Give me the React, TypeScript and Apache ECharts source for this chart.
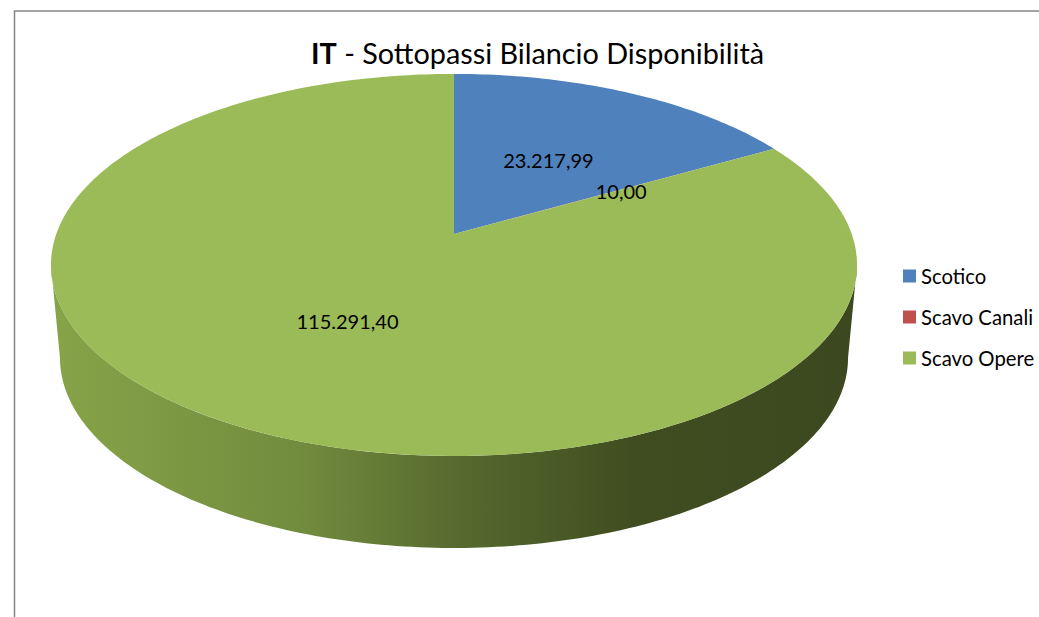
import React, { useEffect, useRef } from "react";
import * as echarts from "echarts";

const categories = ["Scotico", "Scavo Canali", "Scavo Opere"];
const values = [23217.99, 10.0, 115291.4];
const colors = ["#4f81bd", "#c0504d", "#9bbb59"];
const titleBold = "IT";
const titleRest = " - Sottopassi Bilancio Disponibilità";

const FONT = "Lato";
const CX = 454;
const APEX_Y = 234;
const A = 186;
const B = 397.7;
const P = 0.162;
const TAU = Math.PI * 2;

// perspective projection of a point of the unit disc (angle clockwise from the top)
function top(theta: number, r = 1): [number, number] {
  const u = Math.sin(theta) * r;
  const v = Math.cos(theta) * r;
  const d = 1 + P * v;
  return [CX + (B * u) / d, APEX_Y - (A * v) / d];
}
function bottom(theta: number): [number, number] {
  const [x, y] = top(theta);
  return [CX + ((x - CX) * 394) / 403, 358 + ((y - 265) * 190) / 191];
}
function sample(a: number, b: number, f: (t: number) => [number, number]) {
  const n = Math.max(2, Math.ceil(Math.abs(b - a) * 60));
  const out: [number, number][] = [];
  for (let i = 0; i <= n; i++) out.push(f(a + ((b - a) * i) / n));
  return out;
}
function fmt(v: number) {
  const [i, d] = v.toFixed(2).split(".");
  return i.replace(/\B(?=(\d{3})+(?!\d))/g, ".") + "," + d;
}

const TANGENT = Math.acos(-P);
const total = values.reduce((s, v) => s + v, 0);

function wallFill() {
  return new echarts.graphic.LinearGradient(
    60, 0, 857, 0,
    [
      { offset: 0, color: "#86a348" },
      { offset: 0.3, color: "#728c3e" },
      { offset: 0.5, color: "#566a2f" },
      { offset: 0.72, color: "#404d20" },
      { offset: 1, color: "#3c481f" },
    ],
    true
  );
}

function renderSlice(params: any, api: any) {
  const start = api.value(0) as number;
  const end = api.value(1) as number;
  const value = api.value(2) as number;
  const color = colors[params.seriesIndex];
  const children: any[] = [];
  const wallStart = Math.max(start, TANGENT);
  const wallEnd = Math.min(end, TAU - TANGENT);
  if (wallEnd > wallStart) {
    children.push({
      type: "polygon",
      shape: {
        points: [
          ...sample(wallStart, wallEnd, (t) => top(t)),
          ...sample(wallEnd, wallStart, bottom),
        ],
      },
      style: { fill: wallFill() },
    });
  }
  children.push({
    type: "polygon",
    shape: {
      points: [[CX, APEX_Y], ...sample(start, end, (t) => top(t))],
    },
    style: { fill: color },
  });
  const [lx, ly] = top((start + end) / 2, 0.5);
  children.push({
    type: "text",
    z2: 100,
    x: lx + 1,
    y: ly + 1,
    style: {
      text: fmt(value),
      fontFamily: FONT,
      fontSize: 20,
      fill: "#000000",
      align: "center",
      verticalAlign: "middle",
    },
  });
  return { type: "group", children };
}

function buildSeries() {
  let acc = 0;
  return categories.map((name, i) => {
    const start = (acc / total) * TAU;
    acc += values[i];
    const end = (acc / total) * TAU;
    return {
      type: "custom",
      name,
      coordinateSystem: "none",
      silent: true,
      itemStyle: { color: colors[i] },
      renderItem: renderSlice,
      encode: { value: [0, 1, 2] },
      data: [[start, end, values[i]]],
    };
  });
}

export default function App() {
  const ref = useRef<HTMLDivElement>(null);
  useEffect(() => {
    document.body.style.margin = "0";
    const chart = echarts.init(ref.current!, undefined, { renderer: "svg" });
    chart.setOption({
      animation: false,
      backgroundColor: "#ffffff",
      title: {
        left: 306,
        top: 33,
        text: `{b|${titleBold}}{n|${titleRest}}`,
        textStyle: {
          rich: {
            b: { fontFamily: FONT, fontSize: 28.8, fontWeight: "bold", color: "#000" },
            n: { fontFamily: FONT, fontSize: 28.8, fontWeight: "normal", color: "#000" },
          },
        },
      },
      legend: {
        orient: "vertical",
        left: 903,
        top: 266,
        icon: "rect",
        itemWidth: 13,
        itemHeight: 13,
        itemGap: 21,
        selectedMode: false,
        textStyle: { fontFamily: FONT, fontSize: 20.3, color: "#000" },
        data: categories,
        padding: 0,
      },
      graphic: [
        {
          type: "polyline",
          shape: { points: [[14.5, 617], [14.5, 11], [1039, 11]] },
          style: { stroke: "#868686", lineWidth: 1.5, fill: "none" },
          silent: true,
        },
      ],
      series: buildSeries(),
    });
    return () => chart.dispose();
  }, []);
  return <div ref={ref} style={{ width: 1039, height: 617 }} />;
}
